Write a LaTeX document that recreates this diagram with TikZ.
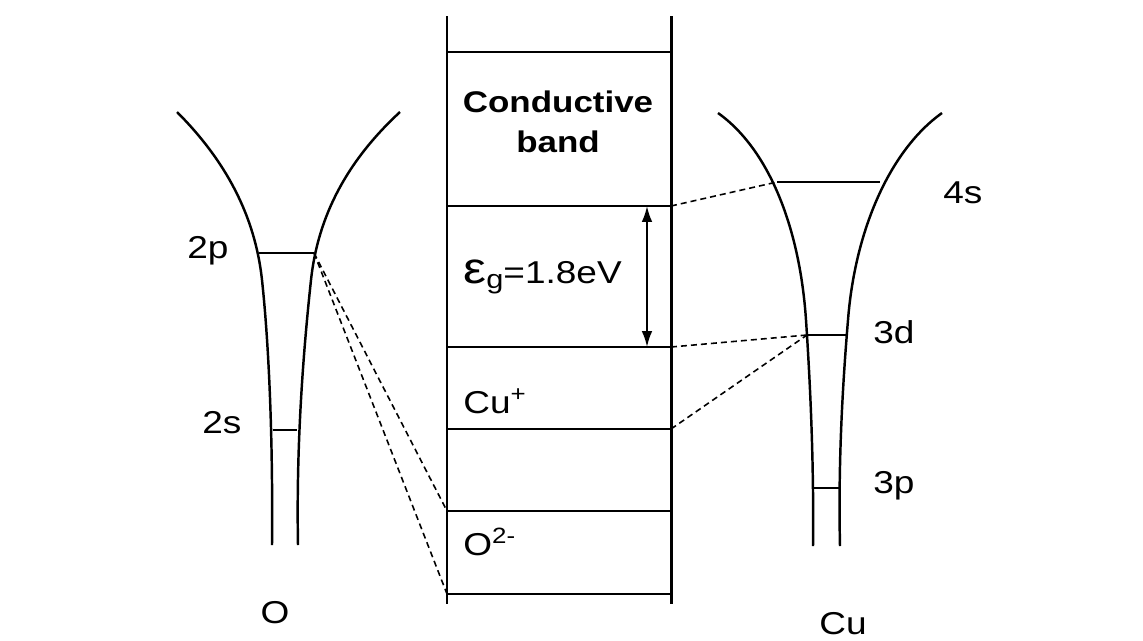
\documentclass[tikz,border=0pt]{standalone}
\usepackage{fontspec}
\setmainfont{Liberation Sans}[FakeStretch=1.17]
\usetikzlibrary{arrows.meta}

\begin{document}
\begin{tikzpicture}[x=0.02cm, y=-0.02cm,
    lbl/.style={font=\fontsize{18}{21}\selectfont, inner sep=0pt},
    head/.style={font=\fontsize{17}{21}\selectfont\bfseries, inner sep=0pt},
    wall/.style={line width=1.7pt},
    band/.style={line width=1.1pt},
    well/.style={line width=1.4pt},
    level/.style={line width=1.5pt},
    link/.style={line width=0.9pt, dash pattern=on 3.4pt off 2.3pt},
    gap/.style={line width=1.1pt, {Latex[length=9pt,width=6pt]}-{Latex[length=9pt,width=6pt]}}
  ]
  \useasboundingbox (0,0) rectangle (1143,640);
  % band scheme
  \draw[wall] (447,16) -- (447,604);
  \draw[wall] (671,16) -- (671,604);
  \foreach \y/\n in {52/0, 206/1, 347/2, 429/3, 511/4, 594/5}
    \draw[band] (447,\y) coordinate (L\n) -- (671,\y) coordinate (R\n);
  \node[head, anchor=base] (cond) at (558,112) {Conductive};
  \node[head, anchor=base] (bnd) at (558,152) {band};
  \node[lbl, anchor=base west] (eg) at (463,283)
    {{\fontsize{25}{25}\selectfont ε}{\fontsize{15}{15}\selectfont\raisebox{-3pt}{g}}=1.8eV};
  \node[lbl, anchor=base west] (cu) at (463,413) {Cu\textsuperscript{+}};
  \node[lbl, anchor=base west] (ox) at (463,555) {O\textsuperscript{2-}};
  \coordinate (gapT) at (647,206);
  \coordinate (gapB) at (647,347);
  \draw[gap] (gapT) -- (gapB);
  % O well
  \draw[well] (177,112) .. controls (225,160) and (255,215) .. (262,280)
    .. controls (269,345) and (273,440) .. (272,545);
  \draw[well] (400,112) .. controls (348,160) and (318,215) .. (311,280)
    .. controls (304,345) and (296,440) .. (298,545);
  \draw[level] (259,253) coordinate (p2l) -- (314,253) coordinate (p2r);
  \draw[level] (273,430) coordinate (s2l) -- (297,430) coordinate (s2r);
  \node[lbl, anchor=base west] (l2p) at (187,258) {2p};
  \node[lbl, anchor=base west] (l2s) at (202,433) {2s};
  \node[lbl, anchor=base] (lo) at (275,623) {O};
  % Cu well
  \draw[well] (718,113) .. controls (770,150) and (800,230) .. (806,320)
    .. controls (810,380) and (814,460) .. (813,546);
  \draw[well] (942,113) .. controls (890,150) and (855,230) .. (848,320)
    .. controls (843,380) and (838,460) .. (840,546);
  \draw[level] (777,182) coordinate (s4l) -- (880,182) coordinate (s4r);
  \draw[level] (807,335) coordinate (d3l) -- (847,335) coordinate (d3r);
  \draw[level] (813,488) coordinate (p3l) -- (839,488) coordinate (p3r);
  \node[lbl, anchor=base west] (l4s) at (943,203) {4s};
  \node[lbl, anchor=base west] (l3d) at (873,343) {3d};
  \node[lbl, anchor=base west] (l3p) at (873,493) {3p};
  \node[lbl, anchor=base] (lcu) at (843,634) {Cu};
  % correlations
  \draw[link] (p2r) -- (L4);
  \draw[link] (p2r) -- (L5);
  \draw[link] (R1) -- (s4l);
  \draw[link] (R2) -- (d3l);
  \draw[link] (R3) -- (d3l);
\end{tikzpicture}
\end{document}
